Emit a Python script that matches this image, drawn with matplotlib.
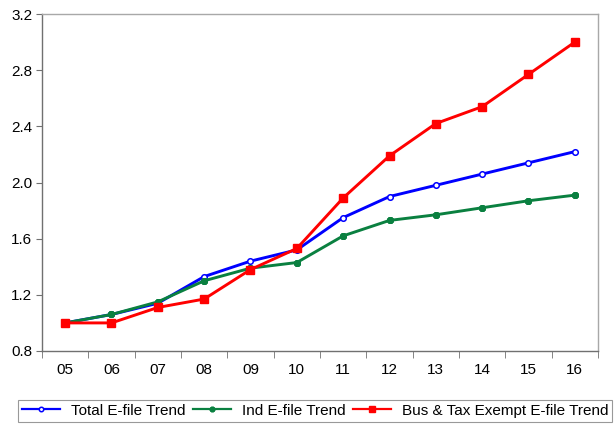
import matplotlib.pyplot as plt
import numpy as np

plt.rcParams['font.family'] = ['Liberation Sans', 'DejaVu Sans']

years = ['05', '06', '07', '08', '09', '10', '11', '12', '13', '14', '15', '16']
total = [1.00, 1.06, 1.14, 1.33, 1.44, 1.52, 1.75, 1.90, 1.98, 2.06, 2.14, 2.22]
ind = [1.00, 1.06, 1.15, 1.30, 1.39, 1.43, 1.62, 1.73, 1.77, 1.82, 1.87, 1.91]
bus = [1.00, 1.00, 1.11, 1.17, 1.38, 1.53, 1.89, 2.19, 2.42, 2.54, 2.77, 3.00]

x = np.arange(len(years))

fig = plt.figure(figsize=(6.14, 4.25), dpi=100)
ax = fig.add_axes([42/614, 74/425, 556/614, 337/425])

lw = 2.1
ax.plot(x, total, color='#0000ff', lw=lw, marker='o', ms=4,
        mfc='white', mec='#0000ff', mew=1.1, label='Total E-file Trend')
ax.plot(x, ind, color='#0a8040', lw=lw, marker=(8, 2, 0), ms=5,
        mec='#0a8040', mew=1.6, label='Ind E-file Trend')
ax.plot(x, bus, color='#ff0000', lw=lw, marker='s', ms=6,
        mfc='#ff0000', mec='#ff0000', label='Bus & Tax Exempt E-file Trend')

ax.set_xlim(-0.5, len(years) - 0.5)
ax.set_ylim(0.8, 3.2)
ax.set_yticks([0.8, 1.2, 1.6, 2.0, 2.4, 2.8, 3.2])
ax.set_yticklabels(['0.8', '1.2', '1.6', '2.0', '2.4', '2.8', '3.2'])
ax.set_xticks(x)
ax.set_xticklabels(years)
ax.set_xticks(np.arange(len(years) + 1) - 0.5, minor=True)
ax.tick_params(axis='x', which='major', length=0, pad=9, labelsize=11)
ax.tick_params(axis='x', which='minor', length=5, color='#707070', direction='out')
ax.tick_params(axis='y', length=4, color='#707070', direction='out', pad=3, labelsize=11)

for s in ['left', 'bottom']:
    ax.spines[s].set_color('#707070')
for s in ['top', 'right']:
    ax.spines[s].set_color('#a8a8a8')
for s in ax.spines.values():
    s.set_linewidth(1.0)

leg = fig.legend(loc='upper left', bbox_to_anchor=(18/614, 1 - 400/425),
                 ncol=3, frameon=True, fancybox=False, fontsize=11,
                 handlelength=2.5, handletextpad=0.7, columnspacing=0.5,
                 borderpad=0.25, borderaxespad=0)
leg.get_frame().set_edgecolor('#808080')
leg.get_frame().set_linewidth(0.8)
for line in leg.get_lines():
    line.set_linewidth(1.6)
    line.set_markersize(line.get_markersize() * 0.8)

fig.savefig('out.png', dpi=100)
